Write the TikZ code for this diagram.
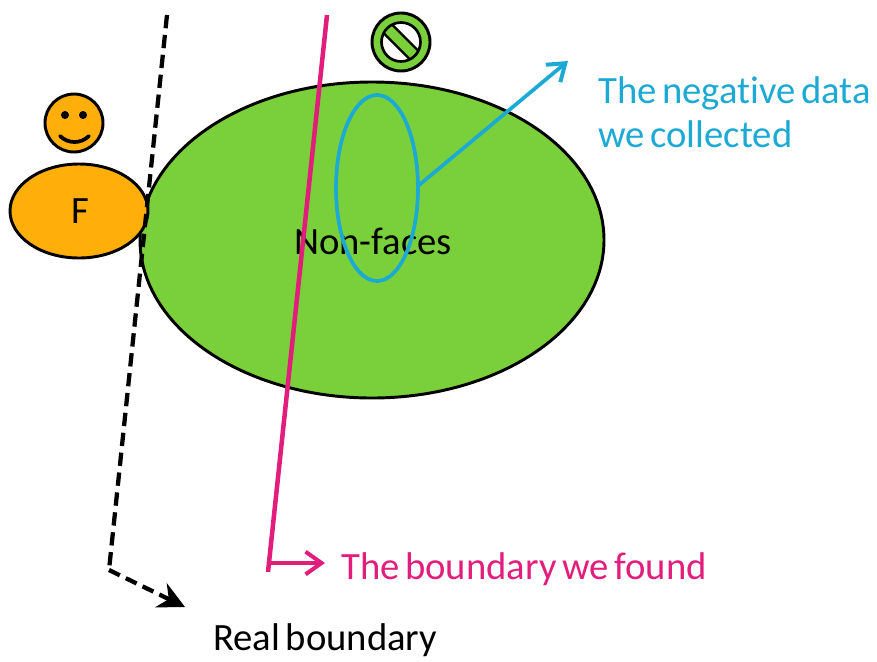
\documentclass[tikz,border=0pt]{standalone}
\usepackage{fontspec}
\setmainfont[Ligatures=CommonOff,WordSpace=0.65]{Carlito}
\usetikzlibrary{arrows.meta}
\definecolor{grn}{RGB}{122,208,58}
\definecolor{org}{RGB}{255,174,10}
\definecolor{cya}{RGB}{28,170,212}
\definecolor{pnk}{RGB}{226,30,125}
\tikzset{
  x=0.75pt,y=-0.75pt,
  blob/.style={draw=black,line width=2.2pt},
  lab/.style={font=\fontsize{29pt}{33pt}\selectfont,inner sep=0pt,anchor=west,align=left},
  dashline/.style={draw=black,line width=3.2pt,dash pattern=on 10pt off 5pt},
  opentip/.style={-{Straight Barb[length=12pt,width=17pt,line width=3pt]}},
  filltip/.style={-{Stealth[length=20pt,width=20pt]}},
}
\begin{document}
\begin{tikzpicture}
\useasboundingbox (0,0) rectangle (877,661);
% boundary and ellipses
\fill[blob,fill=grn] (372,240) ellipse [x radius=232,y radius=158];
\fill[blob,fill=org] (79,211) ellipse [x radius=69,y radius=47];
\node[lab,anchor=center] (f) at (80,211) {F};
\node[lab,anchor=center,text=black] (nf) at (373,241) {Non-faces};
% smiley
\fill[blob,fill=org] (74,123) circle [radius=29];
\fill[black] (65,115) circle [radius=4];
\fill[black] (83,115) circle [radius=4];
\draw[line width=2.8pt,line cap=round] (60,136) .. controls (68,144) and (81,144) .. (89,136);
% no symbol
\fill[blob,fill=grn] (401,42) circle [radius=29];
\begin{scope}
  \clip (401,42) circle [radius=19.5];
  \fill[white] (401,42) circle [radius=19.5];
  \fill[grn,draw=black,line width=1.8pt,rotate around={-45:(401,42)}] (371,36) rectangle (431,48);
\end{scope}
\draw[line width=2pt] (401,42) circle [radius=19.5];
% cyan
\draw[cya,line width=2.8pt] (377,188) ellipse [x radius=41,y radius=93];
\coordinate (c0) at (418,186);
\coordinate (c1) at (568,61);
\draw[cya,line width=2.8pt,opentip] (c0) -- (c1);
\node[lab,text=cya] (neg) at (598,112.5) {The negative data\\we collected};
% dashed
\coordinate (d0) at (167,15);
\coordinate (d1) at (109,570);
\coordinate (d2) at (185,607);
\draw[dashline] (d0) -- (d1);
\draw[dashline,filltip,dash pattern=on 9pt off 5pt] (d1) -- (d2);
\node[lab,text=black] (real) at (213,640) {Real boundary};
% pink
\coordinate (p0) at (327,15);
\coordinate (p1) at (268,572);
\coordinate (p2) at (268,563);
\coordinate (p3) at (325,563);
\draw[pnk,line width=3.4pt] (p0) -- (p1);
\draw[pnk,line width=3.4pt,opentip] (p2) -- (p3);
\node[lab,text=pnk] (found) at (341,569) {The boundary we found};
\end{tikzpicture}
\end{document}
